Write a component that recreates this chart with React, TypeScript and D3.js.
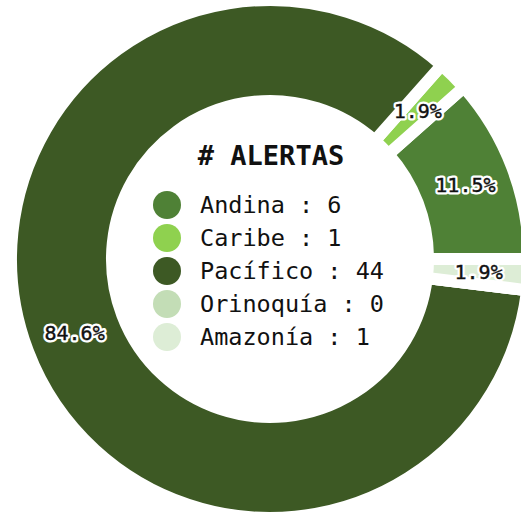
import React from "react";
import * as d3 from "d3";

const categories = ["Andina", "Caribe", "Pacífico", "Orinoquía", "Amazonía"];
const values = [6, 1, 44, 0, 1];
const colors = ["#4f8136", "#8fd14f", "#3d5924", "#c3ddb6", "#ddedd6"];
const title = "# ALERTAS";

const W = 521;
const H = 518;
const CX = 270;
const CY = 259;
const R_OUT = 253;
const R_IN = 164;
const GAP = 12;
const LABEL_R = 209;

export default function App() {
  const total = d3.sum(values);
  const pie = d3
    .pie<number>()
    .sort(null)
    .startAngle(Math.PI / 2)
    .endAngle(Math.PI / 2 - 2 * Math.PI);
  const arcs = pie(values);
  const arc = d3
    .arc<d3.PieArcDatum<number>>()
    .innerRadius(R_IN - GAP / 2)
    .outerRadius(R_OUT + GAP / 2);
  const labelArc = d3
    .arc<d3.PieArcDatum<number>>()
    .innerRadius(LABEL_R)
    .outerRadius(LABEL_R);

  const legendY = d3
    .scaleLinear()
    .domain([0, categories.length - 1])
    .range([205, 337]);

  return (
    <svg
      width={W}
      height={H}
      style={{ position: "absolute", left: 0, top: 0, background: "#fff" }}
    >
      <g transform={`translate(${CX},${CY})`}>
        {arcs.map((a, i) => (
          <path
            key={categories[i]}
            d={arc(a) || ""}
            fill={colors[i]}
            stroke="#fff"
            strokeWidth={GAP}
            strokeLinejoin="miter"
          />
        ))}
        {arcs.map((a, i) => {
          if (values[i] <= 0) return null;
          const [x, y] = labelArc.centroid(a);
          const txt = ((values[i] / total) * 100).toFixed(1) + "%";
          return (
            <g key={"l" + i}>
              <text
                x={x}
                y={y}
                textAnchor="middle"
                dominantBaseline="central"
                fontFamily="DejaVu Sans Mono"
                fontSize={20}
                fill="#fff"
                stroke="#fff"
                strokeWidth={5}
                strokeLinejoin="round"
              >
                {txt}
              </text>
              <text
                x={x}
                y={y}
                textAnchor="middle"
                dominantBaseline="central"
                fontFamily="DejaVu Sans Mono"
                fontSize={20}
                fill="#111"
                stroke="#111"
                strokeWidth={0.4}
              >
                {txt}
              </text>
            </g>
          );
        })}
      </g>
      <text
        x={271}
        y={165}
        textAnchor="middle"
        fontFamily="DejaVu Sans Mono"
        fontWeight="bold"
        fontSize={27}
        fill="#111"
      >
        {title}
      </text>
      {categories.map((c, i) => (
        <g key={"lg" + c}>
          <circle cx={167} cy={legendY(i)} r={14} fill={colors[i]} />
          <text
            x={200}
            y={legendY(i) + 8}
            fontFamily="DejaVu Sans Mono"
            fontSize={23.5}
            fill="#111"
          >
            {`${c} : ${values[i]}`}
          </text>
        </g>
      ))}
    </svg>
  );
}
